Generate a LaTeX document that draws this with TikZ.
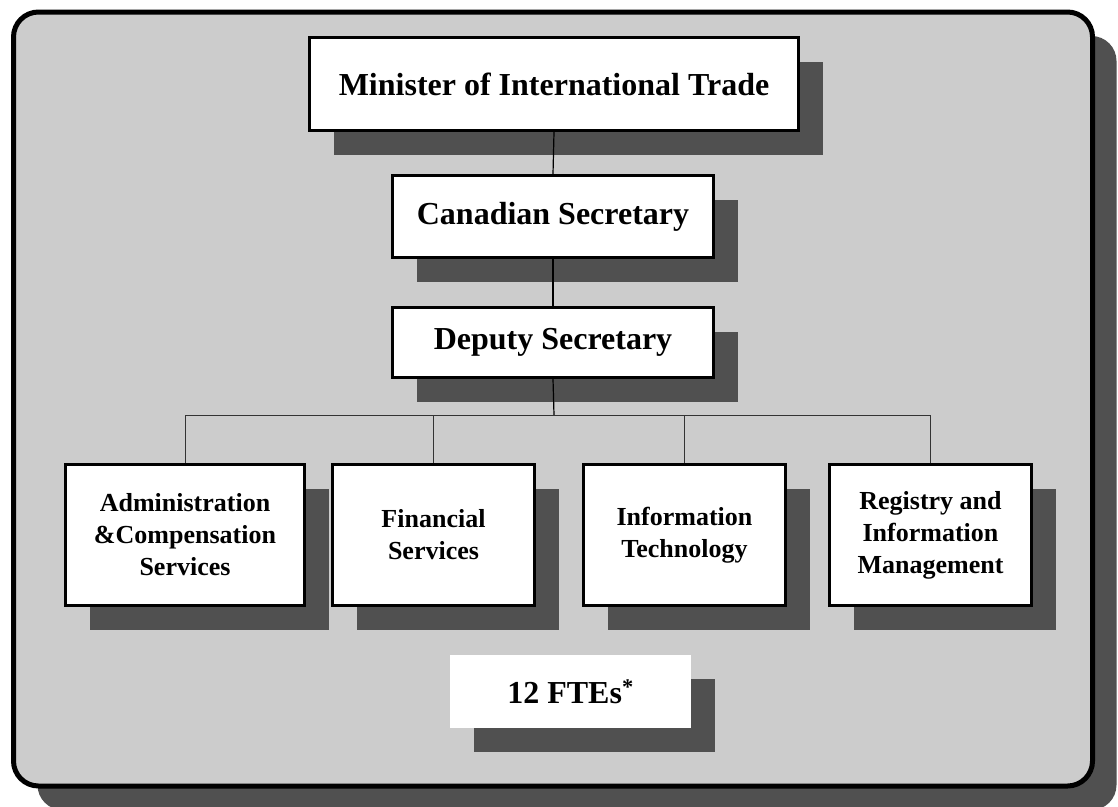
\documentclass[tikz,border=0pt]{standalone}
\usepackage{fontspec}
\setmainfont{Liberation Serif}
\usetikzlibrary{shadows}
\definecolor{panelgray}{RGB}{204,204,204}
\definecolor{shadowgray}{RGB}{80,80,80}
\begin{document}
\begin{tikzpicture}[x=1pt,y=-1pt,
  unitbox/.style={draw=black, line width=3pt, fill=white, align=center,
    inner sep=0pt, font=\bfseries\fontsize{32}{38}\selectfont,
    drop shadow={shadow xshift=24pt, shadow yshift=-24pt, fill=shadowgray, opacity=1}},
  lowbox/.style={unitbox, minimum width=202pt, minimum height=141pt,
    font=\bfseries\fontsize{26}{32}\selectfont},
  link/.style={draw=black, line width=1.2pt},
  bus/.style={draw=black!80, line width=1pt}]
\useasboundingbox (0,0) rectangle (1118,806);
\clip (0,0) rectangle (1118,806);
\fill[white] (0,0) rectangle (1118,806);

% outer panel with its shadow
\fill[fill=shadowgray, rounded corners=25pt] (37.5,36) rectangle (1116.5,810);
\draw[line width=5pt, fill=panelgray, rounded corners=25pt] (13.5,12) rectangle (1092.5,786);

% hierarchy
\node[unitbox, minimum width=489pt, minimum height=93pt] (min) at (554,84)
  {Minister of International Trade};
\node[unitbox, minimum width=321pt, minimum height=82pt] (can) at (553,216.5)
  {Canadian Secretary};
\node[unitbox, minimum width=321pt, minimum height=70pt] (dep) at (553,342.5)
  {Deputy Secretary};

\node[lowbox, minimum width=239pt] (adm) at (185,535)
  {Administration\\\&Compensation\\Services};
\node[lowbox] (fin) at (433.5,535) {Financial\\Services};
\node[lowbox] (itc) at (684.5,535) {Information\\Technology};
\node[lowbox] (reg) at (930.5,535) {Registry and\\Information\\Management};

\node[unitbox, draw=none, minimum width=241pt, minimum height=73pt] (fte) at (570.5,691.5)
  {12 FTEs\textsuperscript{*}};

% connectors
\coordinate (junc) at (554,415);
\draw[link] (min.south) -- (can.north);
\draw[link] (can.south) -- (dep.north);
\draw[link] (dep.south) -- (junc);
\draw[bus] (adm.north) |- (junc);
\draw[bus] (fin.north) |- (junc);
\draw[bus] (itc.north) |- (junc);
\draw[bus] (reg.north) |- (junc);
\end{tikzpicture}
\end{document}
